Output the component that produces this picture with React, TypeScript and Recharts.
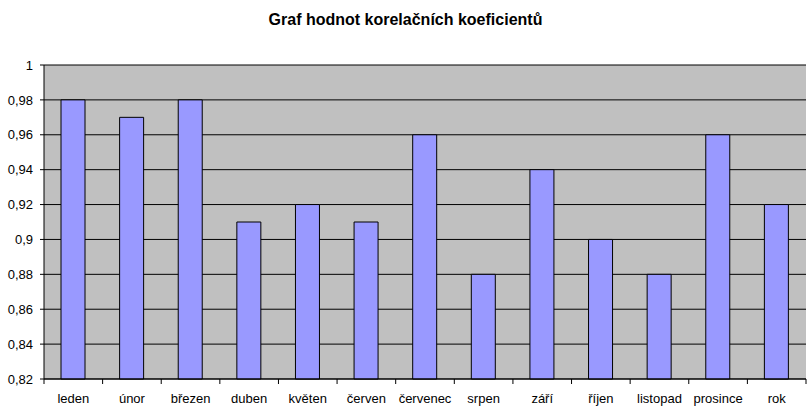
import React from "react";
import { BarChart, Bar, XAxis, YAxis, CartesianGrid } from "recharts";

const months = ["leden", "únor", "březen", "duben", "květen", "červen", "červenec", "srpen", "září", "říjen", "listopad", "prosince", "rok"];
const coefficients = [0.98, 0.97, 0.98, 0.91, 0.92, 0.91, 0.96, 0.88, 0.94, 0.9, 0.88, 0.96, 0.92];
const yTicks = [0.82, 0.84, 0.86, 0.88, 0.9, 0.92, 0.94, 0.96, 0.98, 1];
const title = "Graf hodnot korelačních koeficientů";

const data = months.map((m, i) => ({ month: m, value: coefficients[i] }));

const FONT = "'Liberation Sans', Arial, sans-serif";

const fmt = (v: number) => Number(v.toFixed(2)).toString().replace(".", ",");

const XTick = (props: any) => {
  const { x, y, payload, index, visibleTicksCount } = props;
  const half = payload && payload.offset ? payload.offset : 762 / 13 / 2;
  const count = visibleTicksCount ?? months.length;
  return (
    <g>
      <line x1={x - half} x2={x - half} y1={y} y2={y + 5} stroke="#000" />
      {index === count - 1 && (
        <line x1={x + half} x2={x + half} y1={y} y2={y + 5} stroke="#000" />
      )}
      <text x={x} y={y + 24} textAnchor="middle" fontSize={13} fill="#000" fontFamily={FONT}>
        {payload.value}
      </text>
    </g>
  );
};

export default function App() {
  return (
    <div style={{ position: "fixed", left: 0, top: 0, width: 811, height: 412, background: "#fff" }}>
      <BarChart
        width={811}
        height={412}
        data={data}
        margin={{ top: 65, right: 5, bottom: 0, left: 0 }}
        barCategoryGap={0}
      >
        <text x={405.5} y={25} textAnchor="middle" fontSize={16} fontWeight="bold" fontFamily={FONT} fill="#000">
          {title}
        </text>
        <CartesianGrid fill="#C0C0C0" stroke="#000" vertical={false} />
        <XAxis
          dataKey="month"
          height={33}
          axisLine={{ stroke: "#000" }}
          tickLine={false}
          tickSize={0}
          tickMargin={0}
          tick={<XTick />}
          interval={0}
        />
        <XAxis xAxisId="top" orientation="top" dataKey="month" height={0} tick={false} tickLine={false} axisLine={{ stroke: "#808080" }} />
        <YAxis
          type="number"
          domain={[0.82, 1]}
          ticks={yTicks}
          width={44}
          tickSize={4}
          tickMargin={7}
          tickFormatter={fmt}
          axisLine={{ stroke: "#000" }}
          tickLine={{ stroke: "#000" }}
          tick={{ fill: "#000", fontSize: 13, fontFamily: FONT }}
          interval={0}
        />
        <YAxis yAxisId="right" orientation="right" width={0} domain={[0.82, 1]} tick={false} tickLine={false} axisLine={{ stroke: "#808080" }} />
        <Bar dataKey="value" fill="#9999FF" stroke="#000" strokeWidth={1} barSize={24} isAnimationActive={false} />
      </BarChart>
    </div>
  );
}
